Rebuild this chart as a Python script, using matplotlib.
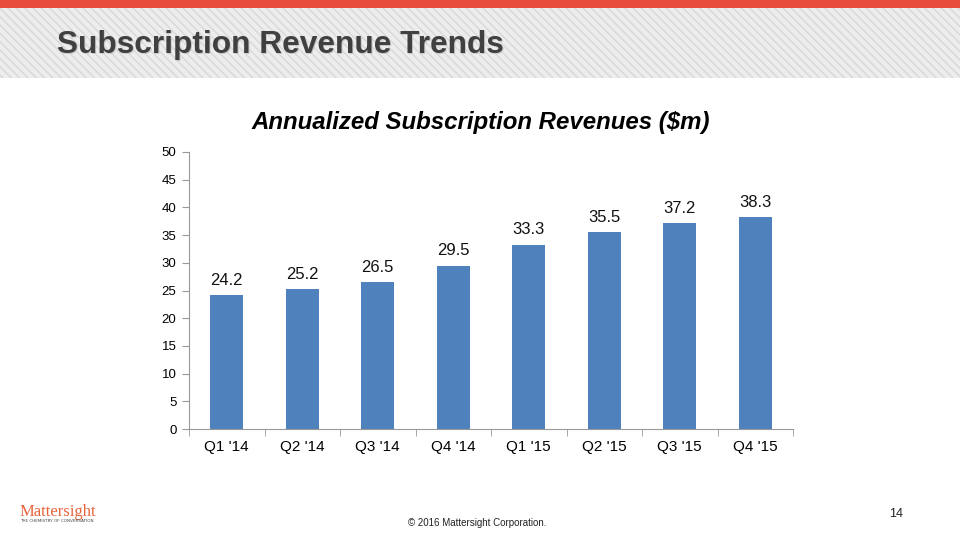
import matplotlib.pyplot as plt
import numpy as np
from matplotlib.patches import Rectangle

quarters = ["Q1 '14", "Q2 '14", "Q3 '14", "Q4 '14", "Q1 '15", "Q2 '15", "Q3 '15", "Q4 '15"]
revenues = [24.2, 25.2, 26.5, 29.5, 33.3, 35.5, 37.2, 38.3]
yticks = [0, 5, 10, 15, 20, 25, 30, 35, 40, 45, 50]

fig = plt.figure(figsize=(9.6, 5.4), dpi=100)
fig.patch.set_facecolor('white')

# header band: red strip + light hatched gray
bg = fig.add_axes([0, 0, 1, 1], zorder=0)
bg.set_xlim(0, 960)
bg.set_ylim(540, 0)
bg.axis('off')
bg.add_patch(Rectangle((0, 8), 960, 70, facecolor='#ededed', edgecolor='#d8d8d8',
                       hatch='\\\\\\\\', linewidth=0))
bg.add_patch(Rectangle((0, 0), 960, 8, facecolor='#e84c3d', edgecolor='none'))
bg.text(58, 46, 'Subscription Revenue Trends', fontsize=22.8, fontweight='bold',
        color='#c8c8c8', va='center', ha='left', family='Liberation Sans')
bg.text(57, 45, 'Subscription Revenue Trends', fontsize=22.8, fontweight='bold',
        color='#404040', va='center', ha='left', family='Liberation Sans')

# footer
bg.text(20, 512, 'Mattersight', fontsize=12, color='#e8643d', family='Liberation Serif',
        va='center', ha='left')
bg.text(20, 521, 'THE CHEMISTRY OF CONVERSATION', fontsize=3, color='#444444',
        va='center', ha='left')
bg.text(477, 523, '\u00a9 2016 Mattersight Corporation.', fontsize=7, color='#222222',
        va='center', ha='center', family='Liberation Sans')
bg.text(896, 514, '14', fontsize=9, color='#222222', va='center', ha='center',
        family='Liberation Sans')

# chart
ax = fig.add_axes([189 / 960, 1 - 429 / 540, (793 - 189) / 960, (429 - 152) / 540], zorder=1)
ax.patch.set_alpha(0)
x = np.arange(len(quarters))
ax.bar(x, revenues, width=0.44, color='#4f81bd')
for xi, v in zip(x, revenues):
    ax.text(xi, v + 1.3, f'{v}', ha='center', va='bottom', fontsize=12,
            family='Liberation Sans', color='#111111')

ax.set_xlim(-0.5, len(quarters) - 0.5)
ax.set_ylim(0, 50)
ax.set_yticks(yticks)
ax.set_xticks(x)
ax.set_xticklabels(quarters)
ax.set_xticks(np.arange(len(quarters) + 1) - 0.5, minor=True)
ax.tick_params(axis='x', which='major', length=0, pad=8, labelsize=11)
ax.tick_params(axis='x', which='minor', length=5, color='#999999', direction='out')
ax.tick_params(axis='y', length=5, color='#999999', labelsize=9.5, pad=4)
for lab in ax.get_xticklabels() + ax.get_yticklabels():
    lab.set_family('Liberation Sans')
for s in ['top', 'right']:
    ax.spines[s].set_visible(False)
ax.spines['left'].set_color('#999999')
ax.spines['bottom'].set_color('#999999')

fig.text(481 / 960, 1 - 123 / 540, 'Annualized Subscription Revenues ($m)', ha='center',
         va='center', fontsize=17.3, fontweight='bold', fontstyle='italic', family='Liberation Sans')

fig.savefig('out.png', dpi=100)
